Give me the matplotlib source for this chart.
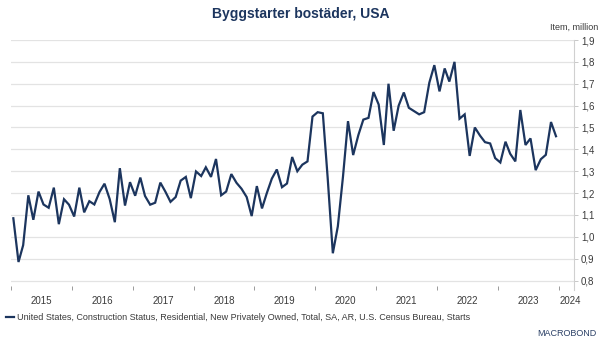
import numpy as np
import pandas as pd
import matplotlib
matplotlib.use("Agg")
from matplotlib import pyplot as plt
import matplotlib.dates as mdates
from matplotlib.ticker import FixedLocator, FuncFormatter, NullFormatter

plt.rcParams['font.family'] = ['Liberation Sans', 'DejaVu Sans']

# monthly housing starts, million units (SAAR), Jan 2015 - Dec 2023
starts_2015 = [1.085, 0.885, 0.962, 1.190, 1.078, 1.207, 1.148, 1.133, 1.225, 1.058, 1.172, 1.147]
starts_2016 = [1.093, 1.225, 1.112, 1.163, 1.148, 1.205, 1.243, 1.173, 1.067, 1.314, 1.143, 1.250]
starts_2017 = [1.188, 1.271, 1.187, 1.147, 1.156, 1.248, 1.207, 1.160, 1.182, 1.257, 1.274, 1.177]
starts_2018 = [1.299, 1.278, 1.318, 1.274, 1.356, 1.190, 1.207, 1.287, 1.247, 1.220, 1.182, 1.095]
starts_2019 = [1.232, 1.130, 1.198, 1.266, 1.308, 1.227, 1.244, 1.365, 1.300, 1.330, 1.345, 1.550]
starts_2020 = [1.570, 1.565, 1.270, 0.925, 1.048, 1.276, 1.529, 1.374, 1.465, 1.536, 1.544, 1.662]
starts_2021 = [1.605, 1.420, 1.700, 1.485, 1.600, 1.660, 1.590, 1.575, 1.560, 1.570, 1.705, 1.785]
starts_2022 = [1.665, 1.770, 1.710, 1.800, 1.540, 1.560, 1.370, 1.500, 1.463, 1.433, 1.427, 1.360]
starts_2023 = [1.340, 1.435, 1.380, 1.345, 1.580, 1.420, 1.450, 1.305, 1.355, 1.375, 1.525, 1.460]

years = list(range(2015, 2025))
yticks = [0.8, 0.9, 1.0, 1.1, 1.2, 1.3, 1.4, 1.5, 1.6, 1.7, 1.8, 1.9]
series_label = ("United States, Construction Status, Residential, New Privately Owned, "
                "Total, SA, AR, U.S. Census Bureau, Starts")

values = (starts_2015 + starts_2016 + starts_2017 + starts_2018 + starts_2019
          + starts_2020 + starts_2021 + starts_2022 + starts_2023)
dates = pd.date_range('2015-01-01', periods=len(values), freq='MS') + pd.Timedelta(days=14)

navy = '#1c355e'
grid_c = '#e3e3e3'
txt_c = '#3a3a3a'

fig = plt.figure(figsize=(6.0, 3.43), dpi=100)
ax = fig.add_axes([11 / 600, 53 / 343, 563 / 600, 250 / 343])

ax.plot(dates, values, color=navy, lw=1.6, solid_joinstyle='miter', zorder=3)

ax.set_xlim(pd.Timestamp('2015-01-01'), pd.Timestamp('2024-04-01'))
ax.set_ylim(0.757, 1.9)

# horizontal grid lines
for v in yticks:
    ax.axhline(v, color=grid_c, lw=0.9, zorder=1)

# y axis on the right
ax.yaxis.tick_right()
ax.yaxis.set_major_locator(FixedLocator(yticks))
ax.yaxis.set_major_formatter(FuncFormatter(lambda v, p: ('%.1f' % v).replace('.', ',')))
ax.tick_params(axis='y', which='major', direction='out', length=3, width=0.7,
               color='#c8c8c8', labelsize=7, labelcolor=txt_c, pad=2)

# x axis: ticks at year starts, labels mid-year
year_starts = [mdates.date2num(pd.Timestamp(f'{y}-01-01')) for y in years]
label_pos = [mdates.date2num(pd.Timestamp(f'{y}-07-01')) for y in years[:-1]]
label_pos.append(mdates.date2num(pd.Timestamp('2024-03-10')))
ax.xaxis.set_major_locator(FixedLocator(year_starts))
ax.xaxis.set_major_formatter(NullFormatter())
ax.xaxis.set_minor_locator(FixedLocator(label_pos))
ax.xaxis.set_minor_formatter(FuncFormatter(lambda v, p: str(years[p]) if p is not None else ''))
ax.set_xticks(label_pos, minor=True)
ax.set_xticklabels([str(y) for y in years], minor=True)
ax.tick_params(axis='x', which='major', direction='in', length=3, width=0.7, color='#9a9a9a')
ax.tick_params(axis='x', which='minor', length=0, labelsize=7, labelcolor=txt_c, pad=4)

for s in ['top', 'left', 'bottom']:
    ax.spines[s].set_visible(False)
ax.spines['right'].set_color('#d0d0d0')
ax.spines['right'].set_linewidth(0.8)
ax.spines['right'].set_bounds(0.757, 1.9)

fig.text(0.502, 1 - 14 / 343, 'Byggstarter bostäder, USA', ha='center', va='center',
         fontsize=10, fontweight='bold', color=navy)
fig.text(0.997, 1 - 27 / 343, 'Item, million', ha='right', va='center', fontsize=6.5, color=txt_c)

fig.legend(ax.lines[:1], [series_label], loc='center left', bbox_to_anchor=(-0.004, 1 - 318 / 343),
           frameon=False, fontsize=6.5, handlelength=0.9, handletextpad=0.4, labelcolor=txt_c)

fig.text(0.995, 1 - 334 / 343, 'MACROBOND', ha='right', va='center', fontsize=6.5,
         color='#2b4066')

fig.savefig('out.png', dpi=100)
